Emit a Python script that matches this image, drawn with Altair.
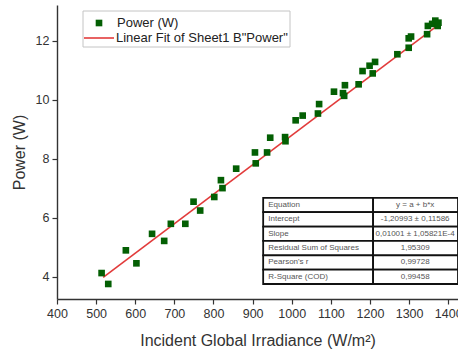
import altair as alt
import pandas as pd

# ---- data ----
irradiance = [514, 531, 576, 603, 643, 674, 691, 728, 749, 766, 802, 819, 823,
              858, 906, 908, 937, 945, 983, 984, 1010, 1028, 1067, 1070, 1108,
              1131, 1134, 1136, 1171, 1181, 1199, 1207, 1213, 1270, 1299, 1299,
              1305, 1346, 1348, 1359, 1367, 1373, 1375]
power = [4.13, 3.76, 4.90, 4.46, 5.46, 5.22, 5.80, 5.80, 6.55, 6.25, 6.71, 7.28, 7.01,
         7.67, 8.22, 7.85, 8.22, 8.72, 8.74, 8.60, 9.31, 9.47, 9.54, 9.86, 10.28,
         10.23, 10.14, 10.50, 10.53, 10.98, 11.16, 10.90, 11.29, 11.55, 11.77, 12.09,
         12.15, 12.23, 12.51, 12.58, 12.69, 12.51, 12.62]
fit_x = [518, 1380]
fit_y = [3.98, 12.60]

series_points = "Power (W)"
series_fit = 'Linear Fit of Sheet1 B"Power"'

table_labels = ["Equation", "Intercept", "Slope", "Residual Sum of Squares",
                "Pearson's r", "R-Square (COD)"]
table_values = ["y = a + b*x", "-1,20993 ± 0,11586", "0,01001 ± 1,05821E-4",
                "1,95309", "0,99728", "0,99458"]

x_ticks = list(range(400, 1401, 50))
y_ticks = list(range(4, 14))

# table geometry (in data units of the chart)
TABLE_X = [927, 1208, 1425]
TABLE_TOP = 6.68
ROW_H = 0.487

FONT = "Liberation Sans"

pts = pd.DataFrame({"x": irradiance, "y": power, "series": series_points})
fit = pd.DataFrame({"x": fit_x, "y": fit_y, "series": series_fit})

rows = []
for i, (lab, val) in enumerate(zip(table_labels, table_values)):
    top = TABLE_TOP - i * ROW_H
    rows.append({"col": "l", "x1": TABLE_X[0], "x2": TABLE_X[1], "tx": TABLE_X[0] + 13,
                 "y1": top, "y2": top - ROW_H, "ty": top - ROW_H / 2, "text": lab})
    rows.append({"col": "v", "x1": TABLE_X[1], "x2": TABLE_X[2],
                 "tx": (TABLE_X[1] + TABLE_X[2]) / 2 - 1,
                 "y1": top, "y2": top - ROW_H, "ty": top - ROW_H / 2, "text": val})
tab = pd.DataFrame(rows)

xscale = alt.Scale(domain=[400, 1425], nice=False, zero=False)
yscale = alt.Scale(domain=[3.25, 13.22], nice=False, zero=False)

minor_tick = {"condition": {"test": "datum.value % 100 !== 0", "value": 3}, "value": 5}
minor_tick_y = {"condition": {"test": "datum.value % 2 !== 0", "value": 3}, "value": 5}

x_enc = alt.X("x:Q", scale=xscale,
              axis=alt.Axis(values=x_ticks, format="d", labelFlush=False,
                            labelExpr="datum.value % 100 === 0 ? datum.label : ''",
                            tickSize=minor_tick,
                            title="Incident Global Irradiance (W/m²)"))
y_enc = alt.Y("y:Q", scale=yscale,
              axis=alt.Axis(values=y_ticks, format="d", labelFlush=False,
                            labelExpr="datum.value % 2 === 0 ? datum.label : ''",
                            tickSize=minor_tick_y,
                            title="Power (W)"))

line = alt.Chart(fit).mark_line(color="#e23b3b", strokeWidth=1.6).encode(
    x=x_enc, y=y_enc,
    color=alt.Color("series:N",
                    scale=alt.Scale(domain=[series_fit], range=["#e23b3b"]),
                    legend=alt.Legend(orient="none", legendX=26, legendY=17,
                                      title=None, symbolType="stroke", symbolSize=900,
                                      symbolStrokeWidth=1.6, labelFontSize=13,
                                      labelFont=FONT, labelColor="#222", labelLimit=0,
                                      labelOffset=1, padding=0)))

points = alt.Chart(pts).mark_point(shape="square", filled=True, size=44, opacity=1,
                                   color="#035f03").encode(
    x=x_enc, y=y_enc,
    color=alt.Color("series:N",
                    scale=alt.Scale(domain=[series_points], range=["#035f03"]),
                    legend=alt.Legend(orient="none", legendX=35.5, legendY=11.5,
                                      title=None, symbolType="square", symbolSize=44,
                                      symbolOpacity=1, labelFontSize=13,
                                      labelFont=FONT, labelColor="#222", labelLimit=0,
                                      labelOffset=11.5, padding=0)))

legend_box = alt.Chart(pd.DataFrame({"a": [0]})).mark_rect(
    fill="white", stroke="#c4c4c4", strokeWidth=1).encode(
    x=alt.value(26), x2=alt.value(233), y=alt.value(6), y2=alt.value(42))

cells = alt.Chart(tab).mark_rect(fill="white", stroke="#111", strokeWidth=1.8).encode(
    x=alt.X("x1:Q", scale=xscale), x2="x2:Q",
    y=alt.Y("y1:Q", scale=yscale), y2="y2:Q")

cell_text_l = alt.Chart(tab).transform_filter("datum.col === 'l'").mark_text(
    align="left", baseline="middle", fontSize=8, font=FONT, color="#555").encode(
    x=alt.X("tx:Q", scale=xscale), y=alt.Y("ty:Q", scale=yscale), text="text:N")

cell_text_v = alt.Chart(tab).transform_filter("datum.col === 'v'").mark_text(
    align="center", baseline="middle", fontSize=8, font=FONT, color="#555").encode(
    x=alt.X("tx:Q", scale=xscale), y=alt.Y("ty:Q", scale=yscale), text="text:N")

chart = alt.layer(legend_box, cells, cell_text_l, cell_text_v, line, points).resolve_scale(
    color="independent"
).properties(
    width=401, height=294,
    autosize=alt.AutoSizeParams(type="none"),
    padding={"left": 57, "top": 5, "right": 0, "bottom": 57},
    background="white",
).configure_view(stroke=None).configure_axis(
    domainColor="#333", domainWidth=1.4, tickColor="#333", tickWidth=1.2,
    labelFont=FONT, labelFontSize=12.5, labelColor="#333", labelPadding=3,
    titleFont=FONT, titleFontSize=16, titleFontWeight="normal", titleColor="#333",
    grid=False,
).configure_axisX(titlePadding=13).configure_axisY(titlePadding=8)

chart.save("out.html", embed_options={"renderer": "svg", "actions": False})
